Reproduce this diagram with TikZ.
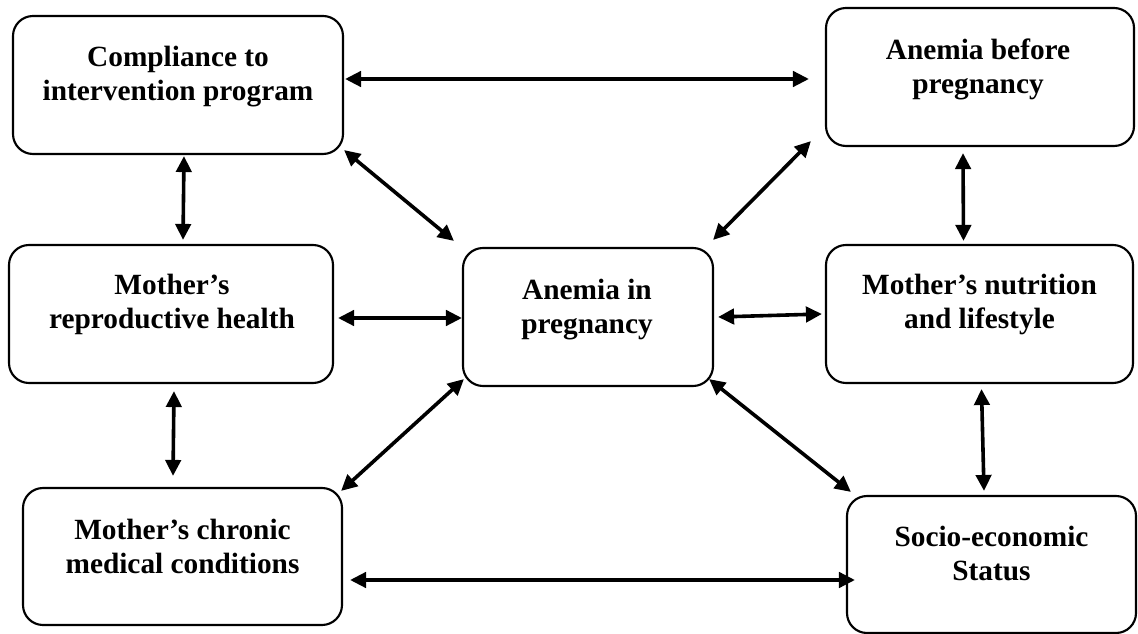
\documentclass[tikz,border=0pt]{standalone}
\usepackage{fontspec}
\setmainfont{Liberation Serif}
\usetikzlibrary{arrows.meta,calc}
\tikzset{every picture/.style={line width=0.75pt}}
\tikzset{
  block/.style={draw, rounded corners=15pt, line width=1.6pt, inner sep=0pt},
  txt/.style={anchor=north, inner sep=0pt, align=center, font=\bfseries\fontsize{22}{25.5}\selectfont},
  link/.style={{Triangle[length=12pt,width=11.5pt]}-{Triangle[length=12pt,width=11.5pt]}, line width=2.7pt},
}
\begin{document}
\begin{tikzpicture}[x=0.75pt,y=0.75pt,yscale=-1,xscale=1]
\useasboundingbox (0,0) rectangle (1138,634);

%Shape: Rounded Rect [id:comp]
\node[block, minimum width=247.5pt, minimum height=103.5pt] (comp) at (178,85) {};
%Shape: Rounded Rect [id:before]
\node[block, minimum width=231pt, minimum height=103.5pt] (before) at (980,77) {};
%Shape: Rounded Rect [id:repro]
\node[block, minimum width=243pt, minimum height=103.5pt] (repro) at (171,314) {};
%Shape: Rounded Rect [id:anemia]
\node[block, minimum width=187.5pt, minimum height=103.5pt] (anemia) at (588,317) {};
%Shape: Rounded Rect [id:nutr]
\node[block, minimum width=230.25pt, minimum height=103.5pt] (nutr) at (979.5,314) {};
%Shape: Rounded Rect [id:chronic]
\node[block, minimum width=239.25pt, minimum height=102.75pt] (chronic) at (182.5,556.5) {};
%Shape: Rounded Rect [id:socio]
\node[block, minimum width=216.75pt, minimum height=102.75pt] (socio) at (991.5,564.5) {};

% Text Node
\node[txt] (compT) at ($(comp.north)+(0,31)$) {Compliance to\\intervention program};
% Text Node
\node[txt] (beforeT) at ($(before.north)+(-2,31)$) {Anemia before\\pregnancy};
% Text Node
\node[txt] (reproT) at ($(repro.north)+(1,30)$) {Mother's\\reproductive health};
% Text Node
\node[txt] (anemiaT) at ($(anemia.north)+(-1,32)$) {Anemia in\\pregnancy};
% Text Node
\node[txt] (nutrT) at ($(nutr.north)+(0,30)$) {Mother's nutrition\\and lifestyle};
% Text Node
\node[txt] (chronicT) at ($(chronic.north)+(0,32)$) {Mother's chronic\\medical conditions};
% Text Node
\node[txt] (socioT) at ($(socio.north)+(0,31)$) {Socio-economic\\Status};

%Straight Lines
\draw[link] ($(comp.east)+(1,-6)$) -- ($(before.west)+(-16,2)$);
\draw[link] ($(comp.south)+(6,1)$) -- ($(repro.north)+(12,-4)$);
\draw[link] ($(comp.south east)+(0,-5)$) -- ($(anemia.north west)+(-8,-6)$);
\draw[link] ($(before.south west)+(-14,-6)$) -- ($(anemia.north east)+(-1,-7)$);
\draw[link] ($(before.south)+(-17,6)$) -- ($(nutr.north)+(-16,-3)$);
\draw[link] ($(repro.east)+(4,4)$) -- ($(anemia.west)+(0,1)$);
\draw[link] ($(anemia.east)+(4,0)$) -- ($(nutr.west)+(-3,0)$);
\draw[link] ($(repro.south)+(3,7)$) -- ($(chronic.north)+(-9.5,-11)$);
\draw[link] ($(chronic.north east)+(-2,4)$) -- ($(anemia.south west)+(2,-8)$);
\draw[link] ($(anemia.south east)+(-5,-8)$) -- ($(socio.north west)+(5,-3)$);
\draw[link] ($(nutr.south)+(2,5)$) -- ($(socio.north)+(-7.5,-4)$);
\draw[link] ($(chronic.east)+(7,23.5)$) -- ($(socio.west)+(9,15.5)$);

\end{tikzpicture}
\end{document}
